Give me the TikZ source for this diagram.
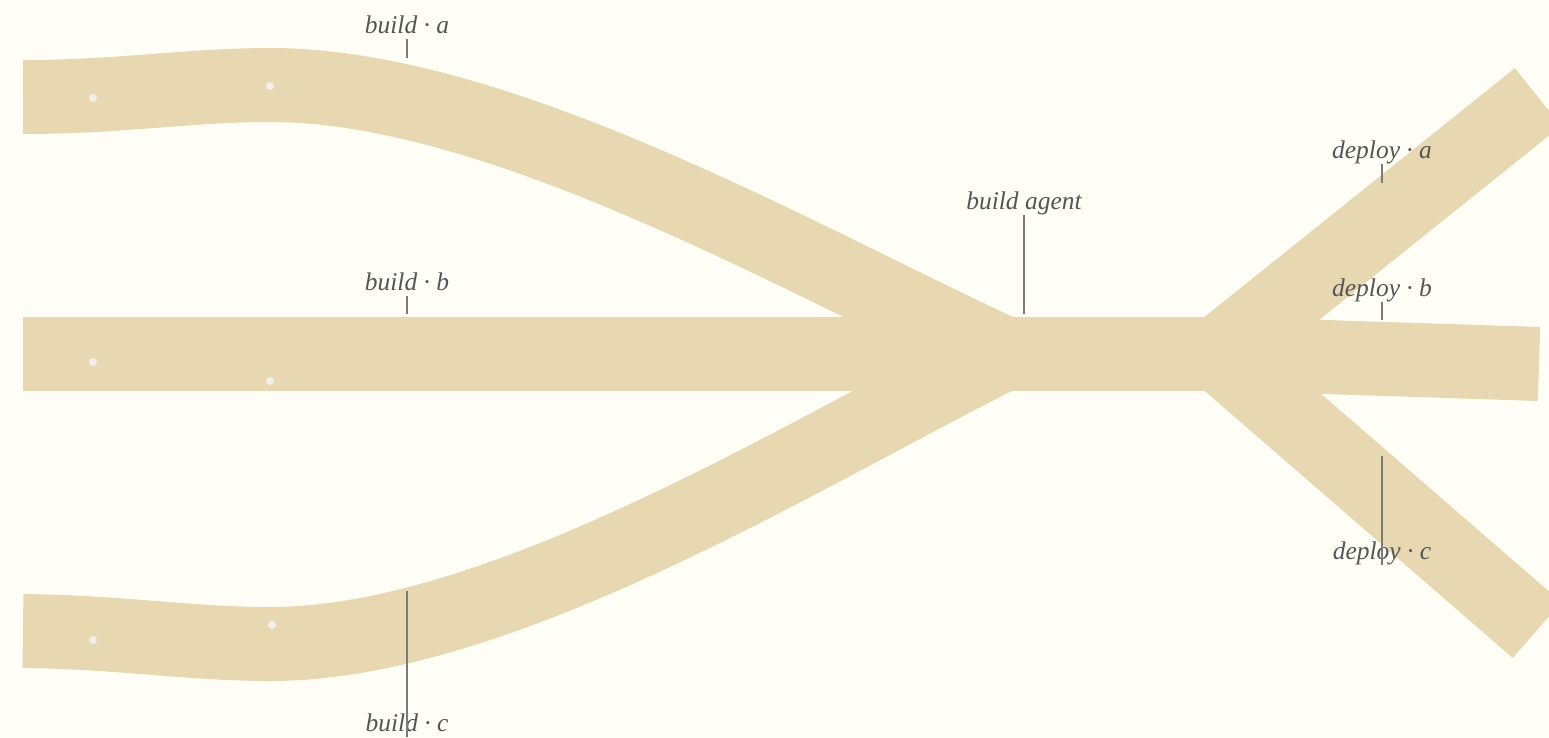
\documentclass[tikz,border=0pt]{standalone}
\usepackage{fontspec}
\setmainfont{Liberation Serif}

\definecolor{paper}{HTML}{FFFEF6}
\definecolor{band}{HTML}{E8D8B2}
\definecolor{dotcol}{HTML}{F1EFEA}
\definecolor{ink}{HTML}{555555}
\definecolor{tickcol}{HTML}{7A7A7A}

\begin{document}
\begin{tikzpicture}[x=1pt,y=-1pt,
    flow/.style={draw=band, line width=74pt},
    lab/.style={anchor=base, inner sep=0pt, text=ink,
                font=\itshape\fontsize{25.5}{30}\selectfont},
    tick/.style={draw=tickcol, line width=1.1pt}]

\fill[paper] (0,0) rectangle (1549,737);
\useasboundingbox (0,0) rectangle (1549,737);

\coordinate (a0) at (23,97);
\coordinate (a1) at (270,85);
\coordinate (b0) at (23,353.5);
\coordinate (c0) at (23,631);
\coordinate (c1) at (270,644);
\coordinate (hub) at (1004,353.5);
\coordinate (fan) at (1218,353.5);
\coordinate (da) at (1538,97);
\coordinate (db) at (1539,364);
\coordinate (dc) at (1537,630);

% bands
\draw[flow] (a0) .. controls (120,97) and (190,85) .. (a1)
                 .. controls (500,85) and (800,259.7) .. (hub);
\draw[flow] (c0) .. controls (120,632) and (190,644) .. (c1)
                 .. controls (500,644) and (800,455.5) .. (hub);
\draw[flow] (b0) -- (fan);
\foreach \d in {da,db,dc}
    \draw[flow] (fan) -- (\d);

% marks on the bands
\foreach \p in {(93,98),(270,86),(93,362),(270,381),(93,640),(272,625)}
    \fill[dotcol] \p circle (4pt);

% labels
\node[lab] (la)  at (407,33)   {build · a};
\node[lab] (lb)  at (407,290)  {build · b};
\node[lab] (lc)  at (407,731)  {build · c};
\node[lab] (lg)  at (1024,209) {build agent};
\node[lab] (lda) at (1382,158) {deploy · a};
\node[lab] (ldb) at (1382,296) {deploy · b};
\node[lab] (ldc) at (1382,559) {deploy · c};

\coordinate (ta)  at (407,58);
\coordinate (tb)  at (407,314);
\coordinate (tc)  at (407,591);
\coordinate (tg)  at (1024,314);
\coordinate (tda) at (1382,183);
\coordinate (tdb) at (1382,320);
\coordinate (tdc) at (1382,456);

\foreach \l/\t in {la/ta,lb/tb,lc/tc,lg/tg,lda/tda,ldb/tdb,ldc/tdc}
    \draw[tick] ([yshift=-6pt]\l.base) -- (\t);

\end{tikzpicture}
\end{document}
